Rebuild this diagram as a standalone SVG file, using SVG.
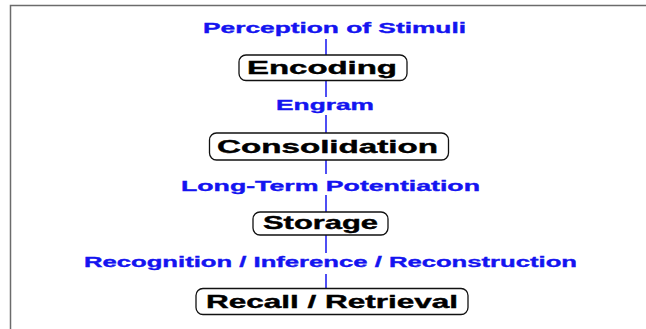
<svg xmlns="http://www.w3.org/2000/svg" width="646" height="329" viewBox="0 0 646 329">
<style>
.node rect{fill:#fff;stroke:#111;stroke-width:1.3}
.node text{font-family:"Liberation Sans",Arial,sans-serif;font-weight:bold;font-size:18.5px;fill:#000;stroke:#000;stroke-width:0.4}
.lbl{font-family:"Liberation Sans",Arial,sans-serif;font-weight:bold;font-size:14.5px;fill:#1414f0;stroke:#1414f0;stroke-width:0.35}
.conn line{stroke:#1414f0;stroke-width:1.5}
</style>
<rect width="646" height="329" fill="#fff"/>
<path d="M10.5 329V5.5H646" fill="none" stroke="#6b6b6b" stroke-width="1.5"/>
<g id="connectors" class="conn">
<line x1="326" y1="39" x2="326" y2="55"/>
<line x1="326" y1="81" x2="326" y2="97"/>
<line x1="326" y1="115" x2="326" y2="133"/>
<line x1="326" y1="160" x2="326" y2="174"/>
<line x1="326" y1="195" x2="326" y2="212"/>
<line x1="326" y1="235" x2="326" y2="253"/>
<line x1="326" y1="274" x2="326" y2="288"/>
</g>
<g id="labels">
<text class="lbl" x="203" y="33" textLength="263" lengthAdjust="spacingAndGlyphs">Perception of Stimuli</text>
<text class="lbl" x="276" y="110" textLength="98" lengthAdjust="spacingAndGlyphs">Engram</text>
<text class="lbl" x="181" y="191" textLength="299" lengthAdjust="spacingAndGlyphs">Long-Term Potentiation</text>
<text class="lbl" x="84" y="267" textLength="493" lengthAdjust="spacingAndGlyphs">Recognition / Inference / Reconstruction</text>
</g>
<g id="encoding" class="node">
<rect x="239" y="55" width="168" height="25.5" rx="7"/>
<text x="247" y="73.5" textLength="150" lengthAdjust="spacingAndGlyphs">Encoding</text>
</g>
<g id="consolidation" class="node">
<rect x="209.5" y="133" width="239" height="27" rx="7"/>
<text x="217" y="153" textLength="221" lengthAdjust="spacingAndGlyphs">Consolidation</text>
</g>
<g id="storage" class="node">
<rect x="253" y="212" width="135" height="23" rx="7"/>
<text x="263" y="229" textLength="115" lengthAdjust="spacingAndGlyphs">Storage</text>
</g>
<g id="recall" class="node">
<rect x="196" y="288.5" width="272" height="26" rx="7"/>
<text x="206" y="308" textLength="252" lengthAdjust="spacingAndGlyphs">Recall / Retrieval</text>
</g>
</svg>
